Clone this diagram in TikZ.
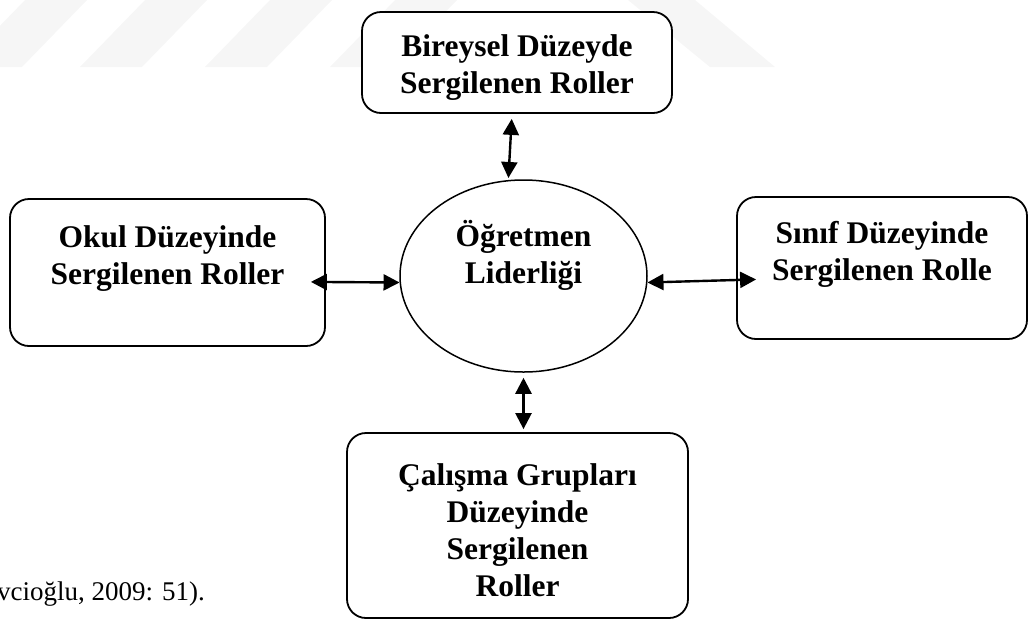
\documentclass[tikz,border=0pt]{standalone}
\usepackage{fontspec}
\setmainfont{Liberation Serif}
\usetikzlibrary{arrows.meta,shapes.geometric}

\tikzset{
  rolebox/.style={draw, line width=1.8pt, rounded corners=19pt, fill=white},
  roletext/.style={font=\fontsize{31.5}{37}\selectfont\bfseries, align=center, inner sep=0pt},
  biarrow/.style={{Triangle[length=16pt,width=16pt]}-{Triangle[length=16pt,width=16pt]}, line width=2.4pt},
  wmark/.style={fill=gray!7}
}

\begin{document}
\begin{tikzpicture}[x=1pt,y=-1pt]
    \useasboundingbox (0,0) rectangle (1031,622);
    % faint watermark bands
    \foreach \bx in {-40,80,205,330}
        \fill[wmark] (\bx,67) -- (\bx+62,67) -- (\bx+127,0) -- (\bx+65,0) -- cycle;
    \fill[wmark] (628,0) -- (695,0) -- (775,67) -- (710,67) -- cycle;

    % boxes
    \node[rolebox, minimum width=310pt, minimum height=101pt] (bireysel) at (517,62.5) {};
    \node[roletext] (bireyseltxt) at ([yshift=-5pt]bireysel) {Bireysel Düzeyde\\Sergilenen Roller};
    \node[rolebox, minimum width=315pt, minimum height=147pt] (okul) at (167.5,272.5) {};
    \node[roletext] (okultxt) at ([yshift=13.5pt]okul) {Okul Düzeyinde\\Sergilenen Roller};
    \node[rolebox, minimum width=290pt, minimum height=142pt] (sinif) at (882,268) {};
    \node[roletext] (siniftxt) at ([yshift=14pt]sinif) {Sınıf Düzeyinde\\Sergilenen Rolle};
    \node[rolebox, minimum width=341pt, minimum height=185pt] (calisma) at (517.5,525.5) {};
    \node[roletext] (calismatxt) at ([yshift=-4.5pt]calisma) {Çalışma Grupları\\Düzeyinde\\Sergilenen\\Roller};

    % centre
    \node[draw, ellipse, line width=1.5pt, inner sep=0pt, minimum width=247pt, minimum height=192pt] (lider) at (523.5,276) {};
    \node[roletext] (lidertxt) at ([yshift=21pt]lider) {Öğretmen\\Liderliği};

    % connectors
    \draw[biarrow, shorten <=5pt, shorten >=2pt] ([xshift=-5pt]bireysel.south) -- (lider.99);
    \draw[biarrow, shorten <=-15pt] ([yshift=-9.5pt]okul.east) -- (lider.183);
    \draw[biarrow, shorten >=-20pt] (lider.357) -- ([yshift=-12pt]sinif.west);
    \draw[biarrow, shorten <=5pt, shorten >=3pt] (lider.south) -- (lider.south |- calisma.north);

    \node[font=\fontsize{27}{32}\selectfont, anchor=base west, inner sep=0pt] (kaynak) at (-3,600) {vcioğlu, 2009: 51).};
\end{tikzpicture}
\end{document}
